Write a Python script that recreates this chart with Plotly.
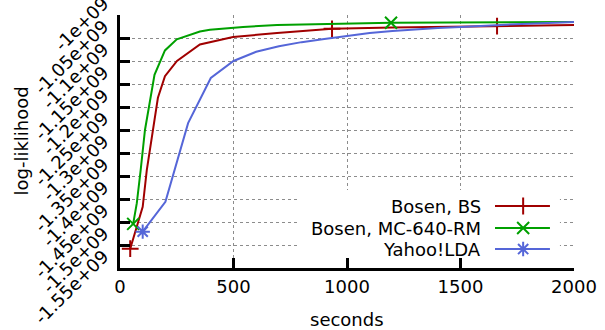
import plotly.graph_objects as go

# ---------------- data ----------------
series_names = ["Bosen, BS", "Bosen, MC-640-RM", "Yahoo!LDA"]

bs_x = [45, 100, 118, 145, 167, 198, 251, 352, 498, 692, 934, 1200, 1661, 2000]
bs_y = [-1.508e9, -1.417e9, -1.337e9, -1.250e9, -1.180e9, -1.133e9, -1.100e9,
        -1.064e9, -1.048e9, -1.039e9, -1.030e9, -1.027e9, -1.024e9, -1.022e9]
bs_marks = [0, 10, 12]

mc_x = [58, 74, 91, 110, 152, 198, 250, 352, 396, 542, 692, 1057, 1194, 2000]
mc_y = [-1.454e9, -1.409e9, -1.337e9, -1.250e9, -1.130e9, -1.077e9, -1.053e9,
        -1.036e9, -1.032e9, -1.026e9, -1.022e9, -1.018e9, -1.017e9, -1.015e9]
mc_marks = [0, 12]

ya_x = [100, 200, 300, 400, 500, 600, 700, 800, 900, 1000, 1100, 1200, 1300,
        1400, 1500, 1600, 1700, 1800, 1900, 2000]
ya_y = [-1.471e9, -1.406e9, -1.235e9, -1.137e9, -1.100e9, -1.080e9, -1.068e9,
        -1.059e9, -1.052e9, -1.045e9, -1.039e9, -1.035e9, -1.031e9, -1.028e9,
        -1.026e9, -1.023e9, -1.021e9, -1.019e9, -1.017e9, -1.015e9]
ya_marks = [0]

y_tickvals = [-1.0e9, -1.05e9, -1.1e9, -1.15e9, -1.2e9, -1.25e9, -1.3e9,
              -1.35e9, -1.4e9, -1.45e9, -1.5e9, -1.55e9]
y_ticktext = ["-1e+09", "-1.05e+09", "-1.1e+09", "-1.15e+09", "-1.2e+09",
              "-1.25e+09", "-1.3e+09", "-1.35e+09", "-1.4e+09", "-1.45e+09",
              "-1.5e+09", "-1.55e+09"]
x_tickvals = [0, 500, 1000, 1500, 2000]
x_ticktext = ["0", "500", "1000", "1500", "2000"]

x_title = "seconds"
y_title = "log-liklihood"

# ---------------- style ----------------
FONT = "DejaVu Sans"
FS = 18
colors = ["#a00000", "#00a000", "#5566d8"]
symbols = ["cross-thin", "x-thin", "asterisk"]
MSIZE = 12

fig = go.Figure()

all_series = [(bs_x, bs_y, bs_marks), (mc_x, mc_y, mc_marks), (ya_x, ya_y, ya_marks)]
for (xs, ys, marks), c, s, name in zip(all_series, colors, symbols, series_names):
    fig.add_trace(go.Scatter(x=xs, y=ys, mode="lines", line=dict(color=c, width=2),
                             showlegend=False, hoverinfo="skip", name=name))
    fig.add_trace(go.Scatter(x=[xs[i] for i in marks], y=[ys[i] for i in marks],
                             mode="markers", showlegend=False, hoverinfo="skip",
                             marker=dict(symbol=s, size=MSIZE,
                                         line=dict(color=c, width=2), color=c)))

# white box behind the gnuplot-like legend (hides grid lines there)
fig.add_trace(go.Scatter(x=[0.396, 0.969, 0.969, 0.396, 0.396],
                         y=[0.012, 0.012, 0.308, 0.308, 0.012],
                         xaxis="x2", yaxis="y2", mode="lines", fill="toself",
                         fillcolor="white", line=dict(width=0, color="white"),
                         showlegend=False, hoverinfo="skip"))

# custom legend (text left of sample) on hidden overlay axes
leg_rows = [0.245, 0.158, 0.075]
for yrow, c, s, name in zip(leg_rows, colors, symbols, series_names):
    fig.add_trace(go.Scatter(x=[0.826, 0.947], y=[yrow, yrow], xaxis="x2", yaxis="y2",
                             mode="lines", line=dict(color=c, width=2),
                             showlegend=False, hoverinfo="skip"))
    fig.add_trace(go.Scatter(x=[0.888], y=[yrow], xaxis="x2", yaxis="y2",
                             mode="markers", showlegend=False, hoverinfo="skip",
                             marker=dict(symbol=s, size=MSIZE,
                                         line=dict(color=c, width=2), color=c)))
    fig.add_annotation(xref="paper", yref="paper", x=0.80, y=yrow, text=name,
                       showarrow=False, xanchor="right", yanchor="middle",
                       font=dict(family=FONT, size=FS, color="black"))

grid = dict(showgrid=True, gridcolor="#8c8c8c", gridwidth=1, griddash="dot")
axis_common = dict(showline=True, linecolor="black", linewidth=3,
                   ticks="inside", ticklen=10, tickwidth=3, tickcolor="black",
                   zeroline=False, mirror=False,
                   tickfont=dict(family=FONT, size=FS, color="black"), **grid)

fig.update_layout(
    width=605, height=330,
    margin=dict(l=120, r=31, t=15, b=62, autoexpand=False),
    paper_bgcolor="white", plot_bgcolor="white",
    font=dict(family=FONT, size=FS, color="black"),
    xaxis=dict(range=[0, 2000], tickvals=x_tickvals, ticktext=x_ticktext,
               automargin=False, **axis_common),
    yaxis=dict(range=[-1.55e9, -1.0e9], tickvals=y_tickvals, ticktext=y_ticktext,
               tickangle=-45, automargin=False, ticklabeloverflow="allow",
               ticklabelshift=-14, ticklabelstandoff=10, **axis_common),
    xaxis2=dict(range=[0, 1], overlaying="x", visible=False, fixedrange=True),
    yaxis2=dict(range=[0, 1], overlaying="y", visible=False, fixedrange=True),
    showlegend=False,
)

fig.add_annotation(xref="paper", yref="paper", x=0.5, y=-0.2055, text=x_title,
                   showarrow=False, xanchor="center", yanchor="middle",
                   font=dict(family=FONT, size=FS, color="black"))
fig.add_annotation(xref="paper", yref="paper", x=-0.218, y=0.5, text=y_title,
                   showarrow=False, xanchor="center", yanchor="middle", textangle=-90,
                   font=dict(family=FONT, size=FS, color="black"))

fig.write_html("out.html", config={"displayModeBar": False},
               post_script="document.body.style.margin='0px';"
                           "document.body.style.padding='0px';")
